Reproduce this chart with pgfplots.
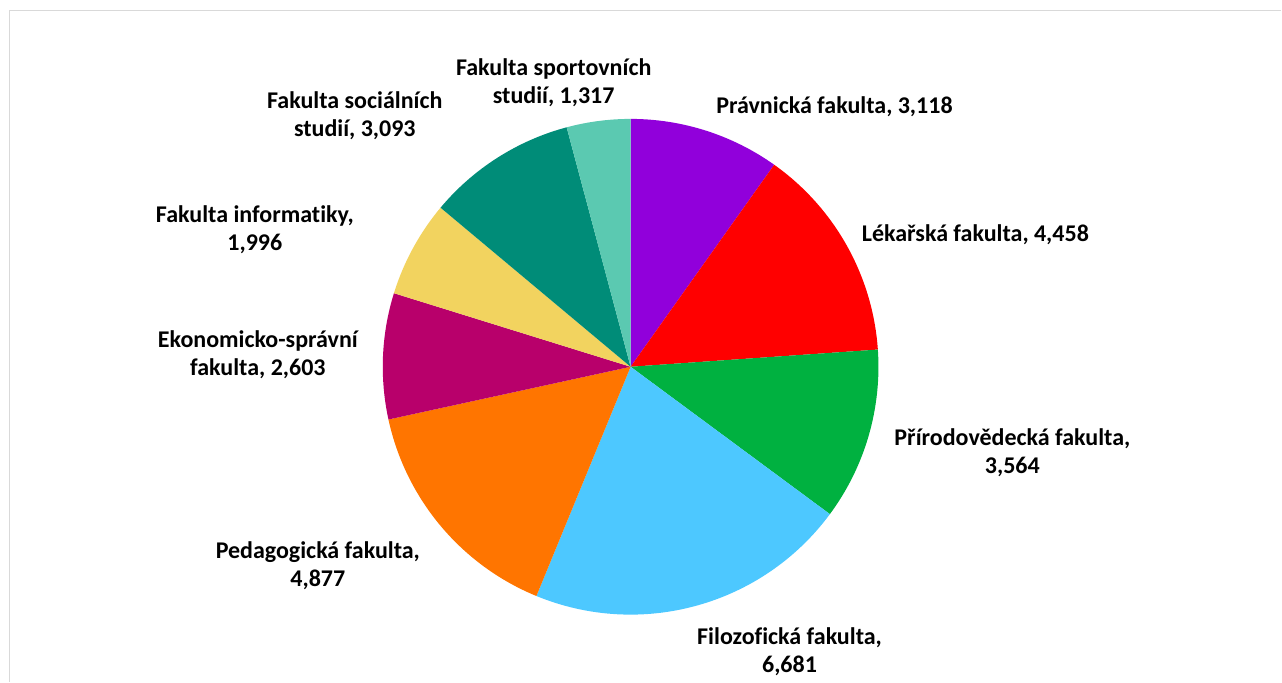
\documentclass[border=0pt]{standalone}
\usepackage{fontspec}
\setmainfont{Carlito}[Ligatures=NoCommon]
\usepackage{pgfplots}
\usepackage{pgfplotstable}
\pgfplotsset{compat=1.18}

% slice colours, in table order (clockwise from the top)
\definecolor{c0}{HTML}{9100DB}
\definecolor{c1}{HTML}{FF0000}
\definecolor{c2}{HTML}{00B140}
\definecolor{c3}{HTML}{4DC8FF}
\definecolor{c4}{HTML}{FF7500}
\definecolor{c5}{HTML}{B8006B}
\definecolor{c6}{HTML}{F2D35F}
\definecolor{c7}{HTML}{008C78}
\definecolor{c8}{HTML}{5BC9B1}
\definecolor{framegray}{HTML}{D9D9D9}

\pgfplotstableread{
value
3118
4458
3564
6681
4877
2603
1996
3093
1317
}\facdata

% total and slice angles (values in thousands to stay in pgfmath range)
\gdef\total{0}
\foreach \i in {0,...,8}{%
  \pgfplotstablegetelem{\i}{value}\of\facdata
  \pgfmathparse{\total+\pgfplotsretval/1000}%
  \xdef\total{\pgfmathresult}%
}
\gdef\curang{90}
\foreach \i in {0,...,8}{%
  \pgfplotstablegetelem{\i}{value}\of\facdata
  \pgfmathparse{\curang-(\pgfplotsretval/1000)/\total*360}%
  \expandafter\xdef\csname sA\i\endcsname{\curang}%
  \expandafter\xdef\csname eA\i\endcsname{\pgfmathresult}%
  \xdef\curang{\pgfmathresult}%
}

\begin{document}
\begin{tikzpicture}
\begin{axis}[
    scale only axis,
    width=641pt, height=341pt,
    xmin=0, xmax=1282, ymin=0, ymax=682,
    hide axis, clip=false,
]
\path (axis cs:0,0) rectangle (axis cs:1282,682);
\draw[framegray, line width=0.8pt] (axis cs:9.5,0) -- (axis cs:9.5,671.5) -- (axis cs:1282,671.5);
\pgfplotsinvokeforeach{0,...,8}{
  \fill[c#1] (axis cs:631,315) -- ++(\csname sA#1\endcsname:124pt)
    arc[start angle=\csname sA#1\endcsname, end angle=\csname eA#1\endcsname, radius=124pt] -- cycle;
}
\tikzset{lbl/.style={font=\fontsize{12}{13.75}\selectfont\bfseries, align=center, inner sep=0pt}}
\node[lbl] at (axis cs:554,599) {Fakulta sportovních\\studií, 1,317};
\node[lbl] at (axis cs:835,575) {Právnická fakulta, 3,118};
\node[lbl] at (axis cs:976,447) {Lékařská fakulta, 4,458};
\node[lbl] at (axis cs:1013,229) {Přírodovědecká fakulta,\\3,564};
\node[lbl] at (axis cs:790,30) {Filozofická fakulta,\\6,681};
\node[lbl] at (axis cs:318,116) {Pedagogická fakulta,\\4,877};
\node[lbl] at (axis cs:258,327) {Ekonomicko-správní\\fakulta, 2,603};
\node[lbl] at (axis cs:255,452) {Fakulta informatiky,\\1,996};
\node[lbl] at (axis cs:355,566) {Fakulta sociálních\\studií, 3,093};
\end{axis}
\end{tikzpicture}
\end{document}
